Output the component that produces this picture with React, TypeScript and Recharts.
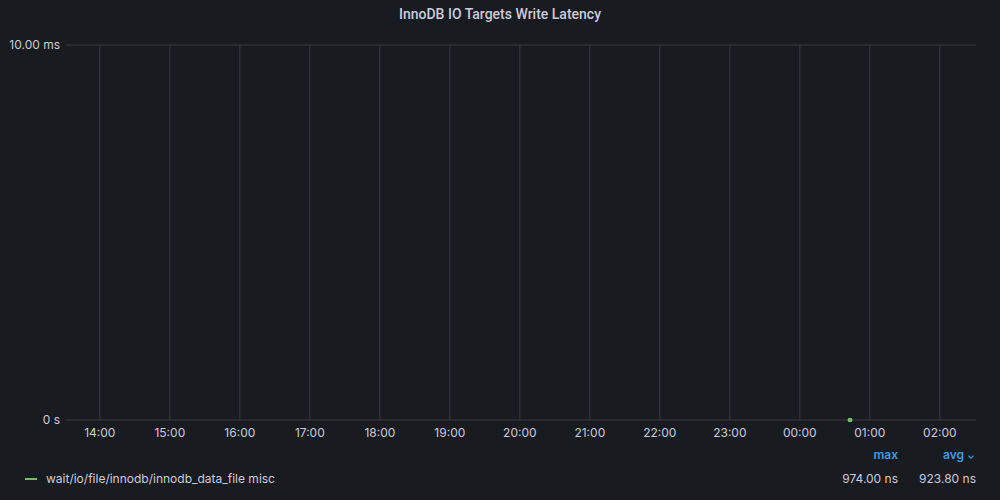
import { LineChart, Line, XAxis, YAxis, CartesianGrid, ReferenceLine } from 'recharts';

// time in minutes from midnight of the first day; values in ns
const hourTicks = [840, 900, 960, 1020, 1080, 1140, 1200, 1260, 1320, 1380, 1440, 1500, 1560];
const hourLabels = ['14:00', '15:00', '16:00', '17:00', '18:00', '19:00', '20:00', '21:00', '22:00', '23:00', '00:00', '01:00', '02:00'];
const sampleTimes = [1482.6, 1482.8, 1483.0, 1483.2, 1483.4];
const sampleValues = [974, 900, 890, 925, 930];
const yTicks = [0, 10000000];
const yLabels = ['0 s', '10.00 ms'];

const seriesName = 'wait/io/file/innodb/innodb_data_file misc';
const legendMax = '974.00 ns';
const legendAvg = '923.80 ns';

const BG = '#181b1f';
const TEXT = '#ccccdc';
const GRID = '#383b40';
const GREEN = '#73bf69';
const BLUE = '#3d9be9';

const data = sampleTimes.map((t, i) => ({ t, v: sampleValues[i] }));

export default function App() {
  return (
    <div
      style={{
        position: 'fixed',
        left: 0,
        top: 0,
        width: 1000,
        height: 500,
        background: BG,
        fontFamily: 'Inter, Roboto, sans-serif',
        color: TEXT,
        overflow: 'hidden',
      }}
    >
      <div
        style={{
          position: 'absolute',
          top: 5,
          width: 1000,
          textAlign: 'center',
          fontSize: 14,
          fontWeight: 500,
          lineHeight: '18px',
          fontFamily: 'Roboto, sans-serif',
        }}
      >
        InnoDB IO Targets Write Latency
      </div>
      <LineChart width={1000} height={450} data={data} margin={{ top: 45, right: 24, bottom: 0, left: 0 }}>
        <CartesianGrid stroke={GRID} strokeWidth={1} vertical={false} />
        {hourTicks.map((h) => (
          <ReferenceLine key={h} x={h} stroke={GRID} strokeWidth={1} />
        ))}
        <XAxis
          dataKey="t"
          type="number"
          domain={[811, 1591]}
          ticks={hourTicks}
          tickFormatter={(v: number) => hourLabels[hourTicks.indexOf(v)]}
          axisLine={false}
          tickLine={false}
          height={30}
          tick={{ fill: TEXT, fontSize: 12 }}
          tickMargin={2}
          allowDataOverflow
        />
        <YAxis
          type="number"
          domain={[0, 10000000]}
          ticks={yTicks}
          tickFormatter={(v: number) => yLabels[yTicks.indexOf(v)]}
          axisLine={false}
          tickLine={false}
          width={66}
          tick={{ fill: TEXT, fontSize: 12 }}
          tickMargin={0}
        />
        <Line
          dataKey="v"
          stroke={GREEN}
          strokeWidth={1}
          dot={{ r: 2, fill: GREEN, stroke: 'none' }}
          isAnimationActive={false}
        />
      </LineChart>
      <div style={{ position: 'absolute', top: 447, right: 102, fontSize: 12, fontWeight: 600, color: BLUE }}>max</div>
      <div style={{ position: 'absolute', top: 447, right: 25, fontSize: 12, fontWeight: 600, color: BLUE }}>
        avg <span style={{ fontSize: 10 }}>⌄</span>
      </div>
      <div style={{ position: 'absolute', top: 471, left: 25, width: 12, height: 2, background: GREEN, marginTop: 7 }} />
      <div style={{ position: 'absolute', top: 471, left: 46, fontSize: 12 }}>{seriesName}</div>
      <div style={{ position: 'absolute', top: 471, right: 102, fontSize: 12 }}>{legendMax}</div>
      <div style={{ position: 'absolute', top: 471, right: 24, fontSize: 12 }}>{legendAvg}</div>
    </div>
  );
}
